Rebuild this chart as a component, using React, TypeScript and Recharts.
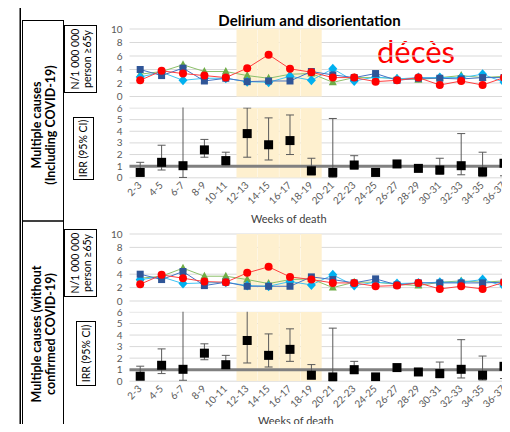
import React from 'react';
import {
  ComposedChart,
  Bar,
  Line,
  XAxis,
  YAxis,
  CartesianGrid,
  ReferenceLine,
  ErrorBar,
} from 'recharts';

const weeks = ['2-3', '4-5', '6-7', '8-9', '10-11', '12-13', '14-15', '16-17', '18-19', '20-21', '22-23', '24-25', '26-27', '28-29', '30-31', '32-33', '34-35', '36-37'];
// highlighted period (first wave)
const shadedWeeks = ['12-13', '14-15', '16-17', '18-19'];

// N/1 000 000 person >=65y, multiple causes including COVID-19
const inclBlue = [4.0, 3.1, 4.2, 2.3, 2.7, 2.2, 2.3, 2.3, 3.7, 3.2, 2.8, 3.4, 2.4, 2.7, 2.7, 2.6, 2.8, 2.8];
const inclCyan = [2.9, 3.6, 2.4, 2.7, 2.7, 2.2, 2.1, 3.0, 2.4, 4.1, 2.3, 2.9, 2.6, 2.8, 2.8, 2.8, 3.3, 2.1];
const inclGreen = [3.3, 3.7, 4.7, 3.7, 3.7, 3.1, 2.7, 3.3, 3.4, 2.1, 2.8, 2.8, 2.7, 2.5, 2.8, 3.1, 2.8, 3.0];
const inclRed = [2.4, 3.8, 3.4, 3.1, 2.8, 4.2, 6.2, 4.1, 3.6, 2.8, 2.8, 2.2, 2.4, 2.8, 1.7, 2.3, 1.7, 2.8];

// IRR (95% CI), including COVID-19
const inclIrr = [0.46, 1.33, 1.04, 2.4, 1.48, 3.8, 2.84, 3.2, 0.6, 0.46, 1.1, 0.46, 1.19, 0.81, 0.67, 1.04, 0.52, 1.25];
const inclLow = [0.2, 0.67, 0.03, 1.77, 1.04, 1.77, 1.53, 2.0, 0.25, 0.04, 0.75, 0.35, 1.05, 0.7, 0.3, 0.26, 0.1, 0.17];
const inclHigh = [1.33, 2.8, 9, 3.3, 2.2, 6.0, 5.15, 5.4, 1.68, 5.1, 1.9, 0.6, 1.3, 0.9, 1.68, 3.8, 2.2, 9];

// N/1 000 000 person >=65y, multiple causes without confirmed COVID-19
const exclBlue = [4.0, 3.2, 4.4, 2.3, 2.8, 2.2, 2.2, 2.2, 3.6, 3.2, 2.7, 3.3, 2.4, 2.7, 2.7, 2.7, 2.7, 2.8];
const exclCyan = [3.2, 3.6, 2.6, 2.7, 2.8, 2.3, 2.2, 2.9, 2.4, 3.9, 2.3, 2.8, 2.6, 2.7, 2.8, 2.8, 3.2, 2.2];
const exclGreen = [3.4, 3.7, 4.9, 3.7, 3.7, 3.2, 2.6, 3.2, 3.3, 2.0, 2.8, 2.8, 2.5, 2.3, 2.8, 3.0, 2.8, 3.0];
const exclRed = [2.5, 3.9, 3.4, 2.9, 2.8, 4.2, 5.1, 3.6, 3.2, 2.7, 2.7, 2.2, 2.3, 2.7, 1.8, 2.2, 1.8, 2.8];

// IRR (95% CI), without confirmed COVID-19
const exclIrr = [0.43, 1.38, 1.03, 2.43, 1.43, 3.53, 2.24, 2.76, 0.52, 0.37, 1.0, 0.37, 1.18, 0.8, 0.66, 1.03, 0.52, 1.29];
const exclLow = [0.15, 0.66, 0.08, 1.86, 1.09, 1.58, 1.23, 1.72, 0.2, 0.03, 0.65, 0.3, 1.05, 0.7, 0.3, 0.28, 0.1, 0.23];
const exclHigh = [1.3, 2.8, 9, 3.24, 2.24, 9, 4.1, 4.54, 1.44, 4.6, 1.72, 0.45, 1.3, 0.9, 1.66, 3.6, 2.18, 9];

const rateTicks = [0, 2, 4, 6, 8, 10];
const irrTicks = [0, 1, 2, 3, 4, 5, 6];
const RATE_MAX = 10;
const IRR_MAX = 6;

const FONT = 'Lato, "Open Sans", sans-serif';
const SHADE = '#FEF0CF';
const GRID = '#D9D9D9';
const TICK = '#595959';
const CHART_W = 520;
const AXIS_W = 129.5;
const MARGIN_R = 5.3;
const MARGIN_T = 10;

const buildRates = (blue: number[], cyan: number[], green: number[], red: number[]) =>
  weeks.map((week, i) => ({
    week,
    shade: shadedWeeks.includes(week) ? RATE_MAX : null,
    blue: blue[i],
    cyan: cyan[i],
    green: green[i],
    red: red[i],
  }));

const buildIrr = (irr: number[], low: number[], high: number[]) =>
  weeks.map((week, i) => ({
    week,
    shade: shadedWeeks.includes(week) ? IRR_MAX : null,
    irr: irr[i],
    ci: [irr[i] - low[i], high[i] - irr[i]],
  }));

const inclRates = buildRates(inclBlue, inclCyan, inclGreen, inclRed);
const exclRates = buildRates(exclBlue, exclCyan, exclGreen, exclRed);
const inclIrrData = buildIrr(inclIrr, inclLow, inclHigh);
const exclIrrData = buildIrr(exclIrr, exclLow, exclHigh);

const squareDot = (color: string, size: number) => (p: any) => {
  if (p.cx == null || p.cy == null) return <g key={p.index} />;
  return <rect key={p.index} x={p.cx - size / 2} y={p.cy - size / 2} width={size} height={size} fill={color} />;
};

const diamondDot = (p: any) => {
  if (p.cx == null || p.cy == null) return <g key={p.index} />;
  const { cx, cy } = p;
  return <polygon key={p.index} points={`${cx},${cy - 5} ${cx + 4.5},${cy} ${cx},${cy + 5} ${cx - 4.5},${cy}`} fill="#00B0F0" />;
};

const triangleDot = (p: any) => {
  if (p.cx == null || p.cy == null) return <g key={p.index} />;
  const { cx, cy } = p;
  return <polygon key={p.index} points={`${cx},${cy - 4.5} ${cx + 4},${cy + 3} ${cx - 4},${cy + 3}`} fill="#70AD47" />;
};

const circleDot = (p: any) => {
  if (p.cx == null || p.cy == null) return <g key={p.index} />;
  return <circle key={p.index} cx={p.cx} cy={p.cy} r={4} fill="#FF0000" />;
};

const WeekTick = (props: any) => {
  const { x, y, payload } = props;
  return (
    <text x={x} y={y} dy="0.3em" transform={`rotate(-45 ${x} ${y})`} textAnchor="end" fontSize={10} fill={TICK} fontFamily={FONT}>
      {payload.value}
    </text>
  );
};

const yTick = { fontSize: 10, fill: TICK, fontFamily: FONT };

const RateChart = ({ data, top, plotH }: { data: any[]; top: number; plotH: number }) => (
  <div style={{ position: 'absolute', left: 0, top: top - MARGIN_T }}>
    <ComposedChart
      width={CHART_W}
      height={plotH + MARGIN_T + 5}
      data={data}
      barCategoryGap={0}
      barGap={0}
      margin={{ top: MARGIN_T, right: MARGIN_R, bottom: 5, left: 0 }}
    >
      <CartesianGrid vertical={false} stroke={GRID} />
      <XAxis dataKey="week" hide />
      <YAxis width={AXIS_W} domain={[0, RATE_MAX]} ticks={rateTicks} interval={0} axisLine={false} tickLine={false} tickSize={0} tickMargin={7} tick={yTick} />
      <Bar dataKey="shade" fill={SHADE} isAnimationActive={false} />
      <Line dataKey="green" stroke="#8CC06A" strokeWidth={1} dot={triangleDot} activeDot={false} isAnimationActive={false} />
      <Line dataKey="cyan" stroke="#3FC3F3" strokeWidth={1} dot={diamondDot} activeDot={false} isAnimationActive={false} />
      <Line dataKey="blue" stroke="#4472C4" strokeWidth={1} dot={squareDot('#2F5597', 7)} activeDot={false} isAnimationActive={false} />
      <Line dataKey="red" stroke="#FF4040" strokeWidth={1} dot={circleDot} activeDot={false} isAnimationActive={false} />
    </ComposedChart>
  </div>
);

// error bars running past 6 are cut at the top of the plot, as in the source
const plotClip = `polygon(0 0, ${AXIS_W}px 0, ${AXIS_W}px ${MARGIN_T}px, 100% ${MARGIN_T}px, 100% 100%, 0 100%)`;

const IrrChart = ({ data, top, plotH }: { data: any[]; top: number; plotH: number }) => (
  <div style={{ position: 'absolute', left: 0, top: top - MARGIN_T, clipPath: plotClip }}>
    <ComposedChart
      width={CHART_W}
      height={plotH + MARGIN_T + 40}
      data={data}
      barCategoryGap={0}
      barGap={0}
      margin={{ top: MARGIN_T, right: MARGIN_R, bottom: 0, left: 0 }}
    >
      <CartesianGrid vertical={false} stroke={GRID} />
      <XAxis dataKey="week" height={40} interval={0} axisLine={false} tickLine={false} tickSize={0} tickMargin={6} tick={<WeekTick />} />
      <YAxis width={AXIS_W} domain={[0, IRR_MAX]} ticks={irrTicks} interval={0} allowDataOverflow axisLine={false} tickLine={false} tickSize={0} tickMargin={7} tick={yTick} />
      <Bar dataKey="shade" fill={SHADE} isAnimationActive={false} />
      <ReferenceLine y={1} stroke="#808080" strokeWidth={3} />
      <Line dataKey="irr" stroke="none" dot={squareDot('#000000', 9)} activeDot={false} isAnimationActive={false}>
        <ErrorBar dataKey="ci" width={4} stroke="#595959" strokeWidth={1} />
      </Line>
    </ComposedChart>
  </div>
);

const Frame = () => (
  <svg width={510} height={432} style={{ position: 'absolute', left: 0, top: 0 }} fontFamily={FONT}>
    <rect x={18} y={2} width={492} height={6} fill="#000" />
    <rect x={19.5} y={8} width={1.5} height={424} fill="#000" />
    <rect x={22.5} y={20.5} width={41} height={200.5} fill="none" stroke="#000" />
    <rect x={22.5} y={221} width={41} height={206} fill="none" stroke="#000" />
    <rect x={22.5} y={427} width={41} height={20} fill="none" stroke="#000" />

    <rect x={64.5} y={25.5} width={32} height={67} fill="none" stroke="#000" />
    <rect x={64.5} y={229.5} width={32} height={67} fill="none" stroke="#000" />
    <rect x={73.5} y={117.5} width={20} height={62} fill="none" stroke="#000" />
    <rect x={76.5} y={321.5} width={19} height={64} fill="none" stroke="#000" />

    <g fontWeight="bold" fontSize={12.5} fill="#000" textAnchor="middle">
      <text transform="translate(36.5,125) rotate(-90)" dy="0.35em">Multiple causes</text>
      <text transform="translate(50.5,125) rotate(-90)" dy="0.35em">(Including COVID-19)</text>
      <text transform="translate(36.5,334) rotate(-90)" dy="0.35em">Multiple causes (without</text>
      <text transform="translate(50.5,334) rotate(-90)" dy="0.35em">confirmed COVID-19)</text>
    </g>
    <g fontSize={10.5} fill="#000" textAnchor="middle">
      <text transform="translate(75,59) rotate(-90)" dy="0.35em">N/1 000 000</text>
      <text transform="translate(87,59) rotate(-90)" dy="0.35em">person ≥65y</text>
      <text transform="translate(75,263) rotate(-90)" dy="0.35em">N/1 000 000</text>
      <text transform="translate(87,263) rotate(-90)" dy="0.35em">person ≥65y</text>
      <text transform="translate(83.5,148.5) rotate(-90)" dy="0.35em">IRR (95% CI)</text>
      <text transform="translate(86,353.5) rotate(-90)" dy="0.35em">IRR (95% CI)</text>
    </g>

    <text x={309.5} y={26} textAnchor="middle" fontSize={15} fontWeight="bold" fill="#000">
      Delirium and disorientation
    </text>
    <text x={416} y={63} textAnchor="middle" fontSize={31} fill="#FF0000">
      décès
    </text>
    <text x={251} y={222.5} fontSize={11} fill="#404040">Weeks of death</text>
    <text x={258} y={425} fontSize={11} fill="#404040">Weeks of death</text>
  </svg>
);

export default function App() {
  return (
    <div style={{ position: 'relative', width: 510, height: 432, margin: -8, overflow: 'hidden', background: '#fff' }}>
      <Frame />
      <RateChart data={inclRates} top={29.3} plotH={67.5} />
      <IrrChart data={inclIrrData} top={107.5} plotH={69.8} />
      <RateChart data={exclRates} top={234} plotH={67} />
      <IrrChart data={exclIrrData} top={311.8} plotH={69.2} />
    </div>
  );
}
